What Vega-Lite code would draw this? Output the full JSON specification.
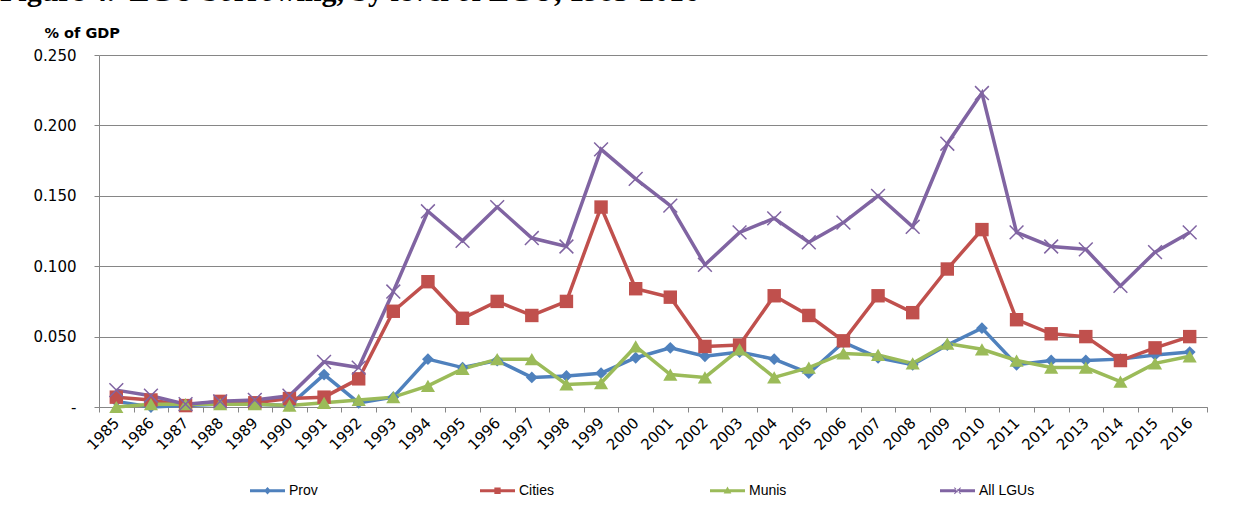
{
  "$schema": "https://vega.github.io/schema/vega-lite/v6.json",
  "autosize": {"type": "none"},
  "width": 1108,
  "height": 352,
  "padding": {"left": 99, "top": 55, "right": 41, "bottom": 106},
  "background": "white",
  "title": {
    "text": "Figure 4.\u00a0\u00a0LGU borrowing, by level of LGU, 1985-2016",
    "anchor": "start",
    "frame": "group",
    "font": "Liberation Serif",
    "fontSize": 30,
    "fontWeight": "bold",
    "color": "black",
    "baseline": "alphabetic",
    "offset": 0,
    "dx": -99,
    "dy": 6
  },
  "config": {
    "view": {"stroke": null},
    "axis": {
      "labelFont": "DejaVu Sans",
      "labelFontSize": 15,
      "labelColor": "black",
      "domainColor": "#868686",
      "tickColor": "#868686",
      "gridColor": "#868686",
      "titleFont": "DejaVu Sans"
    },
    "legend": {
      "orient": "none",
      "legendX": 151,
      "legendY": 418,
      "direction": "horizontal",
      "columns": 4,
      "gridAlign": "all",
      "columnPadding": 135,
      "symbolSize": 1225,
      "symbolOpacity": 1,
      "symbolStrokeWidth": 0,
      "labelFont": "Liberation Sans",
      "labelFontSize": 14,
      "labelColor": "black",
      "labelOffset": 4
    }
  },
  "data": {
    "values": [
      {"year": "1985", "series": "Prov", "value": 0.004},
      {"year": "1986", "series": "Prov", "value": 0.000},
      {"year": "1987", "series": "Prov", "value": 0.001},
      {"year": "1988", "series": "Prov", "value": 0.002},
      {"year": "1989", "series": "Prov", "value": 0.002},
      {"year": "1990", "series": "Prov", "value": 0.001},
      {"year": "1991", "series": "Prov", "value": 0.023},
      {"year": "1992", "series": "Prov", "value": 0.003},
      {"year": "1993", "series": "Prov", "value": 0.007},
      {"year": "1994", "series": "Prov", "value": 0.034},
      {"year": "1995", "series": "Prov", "value": 0.028},
      {"year": "1996", "series": "Prov", "value": 0.033},
      {"year": "1997", "series": "Prov", "value": 0.021},
      {"year": "1998", "series": "Prov", "value": 0.022},
      {"year": "1999", "series": "Prov", "value": 0.024},
      {"year": "2000", "series": "Prov", "value": 0.035},
      {"year": "2001", "series": "Prov", "value": 0.042},
      {"year": "2002", "series": "Prov", "value": 0.036},
      {"year": "2003", "series": "Prov", "value": 0.039},
      {"year": "2004", "series": "Prov", "value": 0.034},
      {"year": "2005", "series": "Prov", "value": 0.024},
      {"year": "2006", "series": "Prov", "value": 0.046},
      {"year": "2007", "series": "Prov", "value": 0.035},
      {"year": "2008", "series": "Prov", "value": 0.030},
      {"year": "2009", "series": "Prov", "value": 0.044},
      {"year": "2010", "series": "Prov", "value": 0.056},
      {"year": "2011", "series": "Prov", "value": 0.030},
      {"year": "2012", "series": "Prov", "value": 0.033},
      {"year": "2013", "series": "Prov", "value": 0.033},
      {"year": "2014", "series": "Prov", "value": 0.034},
      {"year": "2015", "series": "Prov", "value": 0.037},
      {"year": "2016", "series": "Prov", "value": 0.039},
      {"year": "1985", "series": "Cities", "value": 0.007},
      {"year": "1986", "series": "Cities", "value": 0.005},
      {"year": "1987", "series": "Cities", "value": 0.001},
      {"year": "1988", "series": "Cities", "value": 0.004},
      {"year": "1989", "series": "Cities", "value": 0.003},
      {"year": "1990", "series": "Cities", "value": 0.006},
      {"year": "1991", "series": "Cities", "value": 0.007},
      {"year": "1992", "series": "Cities", "value": 0.020},
      {"year": "1993", "series": "Cities", "value": 0.068},
      {"year": "1994", "series": "Cities", "value": 0.089},
      {"year": "1995", "series": "Cities", "value": 0.063},
      {"year": "1996", "series": "Cities", "value": 0.075},
      {"year": "1997", "series": "Cities", "value": 0.065},
      {"year": "1998", "series": "Cities", "value": 0.075},
      {"year": "1999", "series": "Cities", "value": 0.142},
      {"year": "2000", "series": "Cities", "value": 0.084},
      {"year": "2001", "series": "Cities", "value": 0.078},
      {"year": "2002", "series": "Cities", "value": 0.043},
      {"year": "2003", "series": "Cities", "value": 0.044},
      {"year": "2004", "series": "Cities", "value": 0.079},
      {"year": "2005", "series": "Cities", "value": 0.065},
      {"year": "2006", "series": "Cities", "value": 0.047},
      {"year": "2007", "series": "Cities", "value": 0.079},
      {"year": "2008", "series": "Cities", "value": 0.067},
      {"year": "2009", "series": "Cities", "value": 0.098},
      {"year": "2010", "series": "Cities", "value": 0.126},
      {"year": "2011", "series": "Cities", "value": 0.062},
      {"year": "2012", "series": "Cities", "value": 0.052},
      {"year": "2013", "series": "Cities", "value": 0.050},
      {"year": "2014", "series": "Cities", "value": 0.033},
      {"year": "2015", "series": "Cities", "value": 0.042},
      {"year": "2016", "series": "Cities", "value": 0.050},
      {"year": "1985", "series": "Munis", "value": 0.000},
      {"year": "1986", "series": "Munis", "value": 0.002},
      {"year": "1987", "series": "Munis", "value": 0.002},
      {"year": "1988", "series": "Munis", "value": 0.002},
      {"year": "1989", "series": "Munis", "value": 0.002},
      {"year": "1990", "series": "Munis", "value": 0.001},
      {"year": "1991", "series": "Munis", "value": 0.003},
      {"year": "1992", "series": "Munis", "value": 0.005},
      {"year": "1993", "series": "Munis", "value": 0.007},
      {"year": "1994", "series": "Munis", "value": 0.015},
      {"year": "1995", "series": "Munis", "value": 0.027},
      {"year": "1996", "series": "Munis", "value": 0.034},
      {"year": "1997", "series": "Munis", "value": 0.034},
      {"year": "1998", "series": "Munis", "value": 0.016},
      {"year": "1999", "series": "Munis", "value": 0.017},
      {"year": "2000", "series": "Munis", "value": 0.043},
      {"year": "2001", "series": "Munis", "value": 0.023},
      {"year": "2002", "series": "Munis", "value": 0.021},
      {"year": "2003", "series": "Munis", "value": 0.041},
      {"year": "2004", "series": "Munis", "value": 0.021},
      {"year": "2005", "series": "Munis", "value": 0.028},
      {"year": "2006", "series": "Munis", "value": 0.038},
      {"year": "2007", "series": "Munis", "value": 0.037},
      {"year": "2008", "series": "Munis", "value": 0.031},
      {"year": "2009", "series": "Munis", "value": 0.045},
      {"year": "2010", "series": "Munis", "value": 0.041},
      {"year": "2011", "series": "Munis", "value": 0.033},
      {"year": "2012", "series": "Munis", "value": 0.028},
      {"year": "2013", "series": "Munis", "value": 0.028},
      {"year": "2014", "series": "Munis", "value": 0.018},
      {"year": "2015", "series": "Munis", "value": 0.031},
      {"year": "2016", "series": "Munis", "value": 0.036},
      {"year": "1985", "series": "All LGUs", "value": 0.012},
      {"year": "1986", "series": "All LGUs", "value": 0.008},
      {"year": "1987", "series": "All LGUs", "value": 0.002},
      {"year": "1988", "series": "All LGUs", "value": 0.004},
      {"year": "1989", "series": "All LGUs", "value": 0.005},
      {"year": "1990", "series": "All LGUs", "value": 0.008},
      {"year": "1991", "series": "All LGUs", "value": 0.032},
      {"year": "1992", "series": "All LGUs", "value": 0.028},
      {"year": "1993", "series": "All LGUs", "value": 0.082},
      {"year": "1994", "series": "All LGUs", "value": 0.139},
      {"year": "1995", "series": "All LGUs", "value": 0.118},
      {"year": "1996", "series": "All LGUs", "value": 0.142},
      {"year": "1997", "series": "All LGUs", "value": 0.120},
      {"year": "1998", "series": "All LGUs", "value": 0.114},
      {"year": "1999", "series": "All LGUs", "value": 0.183},
      {"year": "2000", "series": "All LGUs", "value": 0.162},
      {"year": "2001", "series": "All LGUs", "value": 0.143},
      {"year": "2002", "series": "All LGUs", "value": 0.101},
      {"year": "2003", "series": "All LGUs", "value": 0.124},
      {"year": "2004", "series": "All LGUs", "value": 0.134},
      {"year": "2005", "series": "All LGUs", "value": 0.117},
      {"year": "2006", "series": "All LGUs", "value": 0.131},
      {"year": "2007", "series": "All LGUs", "value": 0.150},
      {"year": "2008", "series": "All LGUs", "value": 0.128},
      {"year": "2009", "series": "All LGUs", "value": 0.187},
      {"year": "2010", "series": "All LGUs", "value": 0.223},
      {"year": "2011", "series": "All LGUs", "value": 0.124},
      {"year": "2012", "series": "All LGUs", "value": 0.114},
      {"year": "2013", "series": "All LGUs", "value": 0.112},
      {"year": "2014", "series": "All LGUs", "value": 0.086},
      {"year": "2015", "series": "All LGUs", "value": 0.110},
      {"year": "2016", "series": "All LGUs", "value": 0.124}
    ]
  },
  "encoding": {
    "x": {
      "field": "year",
      "type": "ordinal",
      "sort": null,
      "scale": {"type": "band", "paddingInner": 0, "paddingOuter": 0},
      "bandPosition": 0.5,
      "axis": {
        "title": null,
        "labelAngle": -45,
        "labelAlign": "right",
        "labelBaseline": "middle",
        "labelPadding": 8,
        "tickBand": "extent",
        "tickSize": 5,
        "grid": false
      }
    },
    "y": {
      "field": "value",
      "type": "quantitative",
      "scale": {"domain": [0, 0.25], "nice": false},
      "axis": {
        "values": [0, 0.05, 0.1, 0.15, 0.2, 0.25],
        "labelExpr": "datum.value == 0 ? '-\u00a0\u00a0\u00a0' : format(datum.value, '.3f')",
        "labelPadding": 18,
        "tickSize": 5,
        "grid": true,
        "title": "% of GDP",
        "titleAngle": 0,
        "titleAlign": "left",
        "titleBaseline": "alphabetic",
        "titleX": -55,
        "titleY": -18,
        "titleFontSize": 14.5,
        "titleFontWeight": "bold",
        "titleColor": "black"
      }
    },
    "color": {
      "field": "series",
      "type": "nominal",
      "scale": {
        "domain": ["Prov", "Cities", "Munis", "All LGUs"],
        "range": ["#4F81BD", "#C0504D", "#9BBB59", "#8064A2"]
      },
      "legend": {"title": null}
    }
  },
  "layer": [
    {
      "mark": {"type": "line", "strokeWidth": 3.5}
    },
    {
      "transform": [{"filter": "datum.series == 'Prov'"}],
      "mark": {"type": "point", "shape": "diamond", "filled": true, "size": 140, "opacity": 1}
    },
    {
      "transform": [{"filter": "datum.series == 'Cities'"}],
      "mark": {"type": "point", "shape": "square", "filled": true, "size": 180, "opacity": 1}
    },
    {
      "transform": [{"filter": "datum.series == 'Munis'"}],
      "mark": {"type": "point", "shape": "triangle-up", "filled": true, "size": 200, "opacity": 1}
    },
    {
      "transform": [{"filter": "datum.series == 'All LGUs'"}],
      "mark": {"type": "point", "shape": "M-1,-1L1,1M-1,1L1,-1", "filled": false, "size": 190, "strokeWidth": 1.5, "opacity": 1}
    },
    {
      "mark": {"type": "point", "filled": true, "size": 0, "opacity": 1},
      "encoding": {
        "shape": {
          "field": "series",
          "type": "nominal",
          "scale": {
            "domain": ["Prov", "Cities", "Munis", "All LGUs"],
            "range": [
              "M-1,-0.09H1V0.09H-1Z M0,-0.22L0.2,0L0,0.22L-0.2,0Z",
              "M-1,-0.09H1V0.09H-1Z M-0.18,-0.18H0.18V0.18H-0.18Z",
              "M-1,-0.09H1V0.09H-1Z M0,-0.24L0.22,0.16H-0.22Z",
              "M-1,-0.09H1V0.09H-1Z M-0.2,-0.16L0.16,0.2L0.2,0.16L-0.16,-0.2Z M-0.2,0.16L0.16,-0.2L0.2,-0.16L-0.16,0.2Z"
            ]
          },
          "legend": {"title": null}
        }
      }
    }
  ]
}
